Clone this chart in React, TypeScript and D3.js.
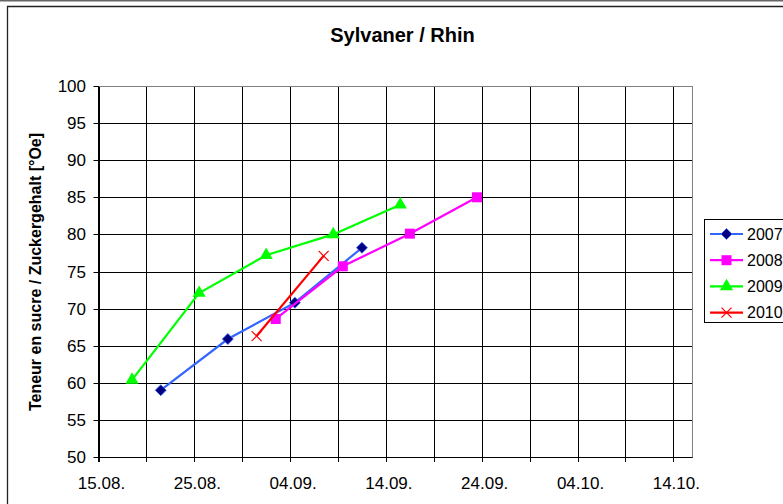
import * as d3 from 'd3';

const years = ['2007', '2008', '2009', '2010'];
const colors = ['#3366ff', '#ff00ff', '#00ff00', '#ff0000'];

const dates2007 = ['2010-08-21', '2010-08-28', '2010-09-04', '2010-09-11'];
const values2007 = [59, 65.9, 70.8, 78.2];
const dates2008 = ['2010-09-02', '2010-09-09', '2010-09-16', '2010-09-23'];
const values2008 = [68.6, 75.7, 80.1, 85];
const dates2009 = ['2010-08-18', '2010-08-25', '2010-09-01', '2010-09-08', '2010-09-15'];
const values2009 = [60.4, 72.1, 77.2, 80, 84];
const dates2010 = ['2010-08-31', '2010-09-07'];
const values2010 = [66.3, 77.1];

const yTicks = [50, 55, 60, 65, 70, 75, 80, 85, 90, 95, 100];

const W = 783;
const H = 504;
const plot = { left: 98.5, right: 692.5, top: 86, bottom: 457 };

const parse = d3.timeParse('%Y-%m-%d');
const fmt = d3.timeFormat('%d.%m.');

const series = [
  { dates: dates2007, values: values2007 },
  { dates: dates2008, values: values2008 },
  { dates: dates2009, values: values2009 },
  { dates: dates2010, values: values2010 },
].map((s, i) => ({
  name: years[i],
  color: colors[i],
  // points sit in the middle of their day
  points: s.dates.map((d, j) => ({ date: d3.timeHour.offset(parse(d)!, 12), value: s.values[j] })),
}));

const x = d3.scaleTime()
  .domain([parse('2010-08-15')!, parse('2010-10-16')!])
  .range([plot.left, plot.right]);
const y = d3.scaleLinear().domain([50, 100]).range([plot.bottom, plot.top]);

const gridDays = d3.timeDay.range(parse('2010-08-15')!, parse('2010-10-16')!, 5);

const line = d3.line<{ date: Date; value: number }>()
  .x(d => x(d.date))
  .y(d => y(d.value));

const Marker = ({ i, cx, cy }: { i: number; cx: number; cy: number }) => {
  if (i === 0) {
    return <path d="M0,-5.5L5.5,0L0,5.5L-5.5,0Z" transform={`translate(${cx},${cy})`} fill="#000080" stroke="#3366ff" strokeWidth={0.8} />;
  }
  if (i === 1) {
    return <rect x={cx - 5} y={cy - 5} width={10} height={10} fill="#ff00ff" />;
  }
  if (i === 2) {
    const p = d3.symbol(d3.symbolTriangle, 75)()!;
    return <path d={p} transform={`translate(${cx},${cy})`} fill="#00ff00" />;
  }
  return (
    <g stroke="#ff0000" strokeWidth={1.2}>
      <line x1={cx - 5} y1={cy - 5} x2={cx + 5} y2={cy + 5} />
      <line x1={cx - 5} y1={cy + 5} x2={cx + 5} y2={cy - 5} />
    </g>
  );
};

export default function App() {
  const font = '"Liberation Sans", Arial, sans-serif';
  return (
    <svg width={W} height={H} style={{ position: 'absolute', left: 0, top: 0, background: '#fff' }} fontFamily={font}>
      {/* outer frame */}
      <line x1={0} y1={0.5} x2={W} y2={0.5} stroke="#666" strokeWidth={2} />
      <path d={`M7.5,${H} V6.5 H${W}`} fill="none" stroke="#222" strokeWidth={1.3} />

      <text x={402.5} y={42} textAnchor="middle" fontSize={20} fontWeight="bold">Sylvaner / Rhin</text>

      {/* grid */}
      {yTicks.map(t => (
        <line key={'gy' + t} x1={plot.left} x2={plot.right} y1={Math.round(y(t)) + 0.5} y2={Math.round(y(t)) + 0.5} stroke="#000" />
      ))}
      {gridDays.map((d, i) => (
        <line key={'gx' + i} x1={Math.round(x(d)) + 0.5} x2={Math.round(x(d)) + 0.5} y1={plot.top} y2={plot.bottom + 5} stroke="#000" />
      ))}
      <rect x={plot.left} y={plot.top + 0.5} width={plot.right - plot.left} height={plot.bottom - plot.top} fill="none" stroke="#808080" />
      <line x1={plot.left} x2={plot.left} y1={plot.top} y2={plot.bottom + 5} stroke="#000" />
      <line x1={plot.left} x2={plot.right} y1={plot.bottom + 0.5} y2={plot.bottom + 0.5} stroke="#000" />

      {/* y axis */}
      {yTicks.map(t => (
        <g key={'yt' + t}>
          <line x1={plot.left - 5} x2={plot.left} y1={Math.round(y(t)) + 0.5} y2={Math.round(y(t)) + 0.5} stroke="#000" />
          <text x={86} y={y(t) + 6} textAnchor="end" fontSize={17}>{t}</text>
        </g>
      ))}
      {/* x axis labels */}
      {gridDays.filter((_, i) => i % 2 === 0).map((d, i) => (
        <text key={'xt' + i} x={x(d) + 3} y={489} textAnchor="middle" fontSize={17}>{fmt(d)}</text>
      ))}

      <text transform={`translate(41,272) rotate(-90)`} textAnchor="middle" fontSize={16} fontWeight="bold">
        Teneur en sucre / Zuckergehalt [°Oe]
      </text>

      {/* series */}
      {series.map((s, i) => (
        <g key={s.name}>
          <path d={line(s.points)!} fill="none" stroke={s.color} strokeWidth={2.2} />
          {s.points.map((p, j) => (
            <Marker key={j} i={i} cx={x(p.date)} cy={y(p.value)} />
          ))}
        </g>
      ))}

      {/* legend */}
      <rect x={704.5} y={219.5} width={120} height={103} fill="#fff" stroke="#000" />
      {series.map((s, i) => {
        const ly = 234 + i * 26.2;
        return (
          <g key={'lg' + s.name}>
            <line x1={710} x2={743} y1={ly} y2={ly} stroke={s.color} strokeWidth={2.2} />
            <Marker i={i} cx={726.5} cy={ly} />
            <text x={747} y={ly + 5.5} fontSize={16}>{s.name}</text>
          </g>
        );
      })}
    </svg>
  );
}
